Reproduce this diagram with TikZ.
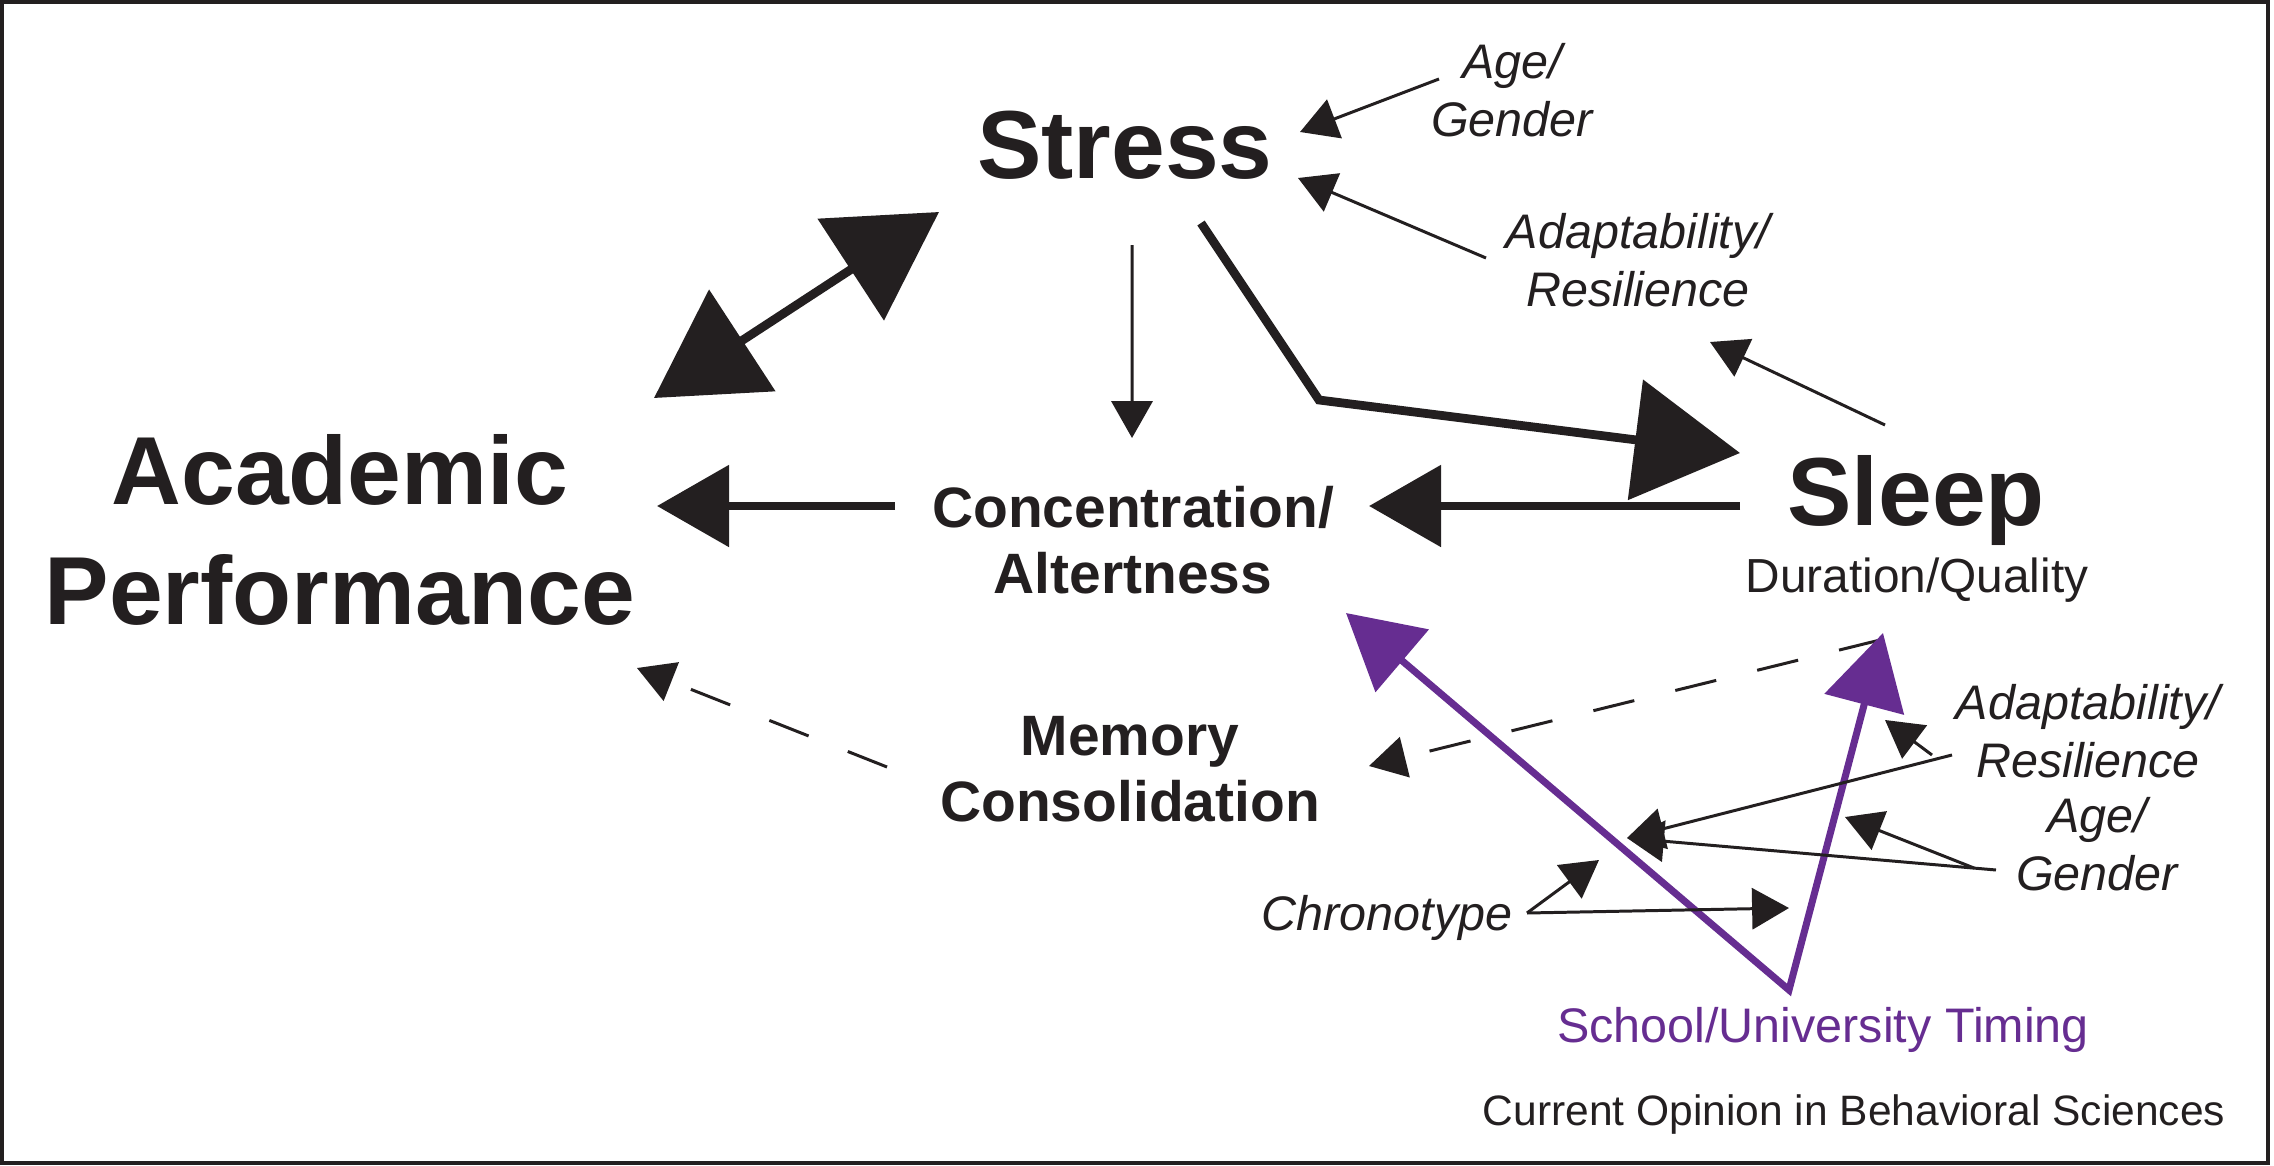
\documentclass[tikz,border=0pt]{standalone}
\usepackage{fontspec}
\setmainfont{Liberation Sans}
\usetikzlibrary{arrows.meta}
\usetikzlibrary{positioning}

\definecolor{ink}{HTML}{231F20}
\definecolor{timingpurple}{HTML}{662D91}

\begin{document}
\begin{tikzpicture}[
    every node/.style={inner sep=0pt, text=ink},
    major/.style={font=\bfseries\fontsize{27.5}{33.9}\selectfont, align=center},
    minor/.style={font=\bfseries\fontsize{16.2}{18.9}\selectfont, align=center},
    factor/.style={font=\itshape\fontsize{13.8}{16.5}\selectfont, align=center},
    small/.style={font=\fontsize{13.6}{15.5}\selectfont},
    strong/.style={draw=ink, line width=2.5pt},
    weak/.style={draw=ink, line width=0.85pt, -{Triangle[length=10.5pt,width=11.7pt]}},
    dashline/.style={weak, dash pattern=on 12pt off 12pt},
    timingline/.style={draw=timingpurple, line width=2pt},
  ]
      \useasboundingbox (0,0) rectangle (22.74,-11.66);
      \draw [ink, line width=1.1pt] (0.02,-0.02) rectangle (22.68,-11.63);

      % main factors
      \node [major, anchor=base] (stress) at (11.25,-1.78) {Stress};
      \node [major] (acad) at (3.40,-5.30) {Academic\\Performance};
      \node [minor] (conc) at (11.33,-5.40) {Concentration/\\Altertness};
      \node [major, anchor=base] (sleep) at (19.16,-5.25) {Sleep};
      \node [small, anchor=base] (dur) at (19.17,-5.92) {Duration/Quality};
      \node [minor] (mem) at (11.30,-7.69) {Memory\\Consolidation};

      % moderators
      \node [factor] (agetop) at (15.12,-0.90) {Age/\\Gender};
      \node [factor] (adapttop) at (16.38,-2.60) {Adaptability/\\Resilience};
      \node [factor] (adaptbot) at (20.88,-7.31) {Adaptability/\\Resilience};
      \node [factor] (agebot) at (20.97,-8.44) {Age/\\Gender};
      \node [factor, anchor=base] (chrono) at (13.87,-9.30) {Chronotype};
      \node [anchor=base, text=timingpurple, font=\fontsize{13.8}{16}\selectfont] (timing) at (18.23,-10.42) {School/University Timing};
      \node [anchor=base, font=\fontsize{12.1}{14}\selectfont] (journal) at (18.54,-11.25) {Current Opinion in Behavioral Sciences};

      \draw [strong, {Triangle[length=30pt,width=34pt]}-{Triangle[length=30pt,width=34pt]}]
        ([shift={(3.14,1.32)}]acad.center) -- ([shift={(-1.86,-0.34)}]stress.base);
      \draw [weak] ([shift={(0.07,-0.67)}]stress.base) -- ([shift={(-0.01,1.02)}]conc.center);
      \draw [strong, -{Triangle[length=30pt,width=34pt]}]
        ([shift={(0.76,-0.45)}]stress.base) -- (13.19,-4.00) -- ([shift={(-1.76,0.72)}]sleep.base);
      \draw [strong, -{Triangle[length=20.5pt,width=22.8pt]}]
        ([shift={(-1.76,0.19)}]sleep.base) -- ([shift={(2.36,0.34)}]conc.center);
      \draw [strong, -{Triangle[length=20.5pt,width=22.8pt]}]
        ([shift={(-2.38,0.34)}]conc.center) -- ([shift={(3.17,0.24)}]acad.center);

      \draw [weak] ([shift={(-0.73,0.11)}]agetop.center) -- ([shift={(1.75,0.46)}]stress.base);
      \draw [weak] ([shift={(-1.52,0.02)}]adapttop.center) -- ([shift={(1.73,0)}]stress.base);
      \draw [weak] ([shift={(-0.31,1.00)}]sleep.base) -- ([shift={(0.72,-0.82)}]adapttop.center);

      \draw [dashline] ([shift={(-2.43,0.02)}]mem.center) -- ([shift={(2.97,-1.38)}]acad.center);
      \draw [dashline] ([shift={(-0.37,-0.48)}]dur.base) -- ([shift={(2.39,0.03)}]mem.center);

      % school timing
      \coordinate (tv) at ([shift={(-0.34,0.52)}]timing.base);
      \draw [timingline, {Triangle[length=21pt,width=23pt]}-{Triangle[length=21pt,width=23pt]}]
        ([shift={(2.13,-0.73)}]conc.center) -- (tv) -- ([shift={(-0.34,-0.41)}]dur.base);

      \coordinate (mr1) at (18.85,-7.20);
      \coordinate (mr2) at (18.45,-8.17);
      \coordinate (mr3) at (17.89,-9.08);
      \coordinate (ml1) at (16.27,-8.38);
      \coordinate (ml2) at (15.99,-8.60);

      \draw [weak] ([shift={(-1.56,-0.24)}]adaptbot.center) -- (mr1);
      \draw [weak] ([shift={(-1.36,-0.24)}]adaptbot.center) -- (ml1);
      \draw [weak] ([shift={(-1.01,-0.26)}]agebot.center) -- (ml1);
      \draw [weak] ([shift={(-1.23,-0.24)}]agebot.center) -- (mr2);
      \draw [weak] ([shift={(1.40,0.17)}]chrono.base) -- (ml2);
      \draw [weak] ([shift={(1.40,0.17)}]chrono.base) -- (mr3);
\end{tikzpicture}
\end{document}
